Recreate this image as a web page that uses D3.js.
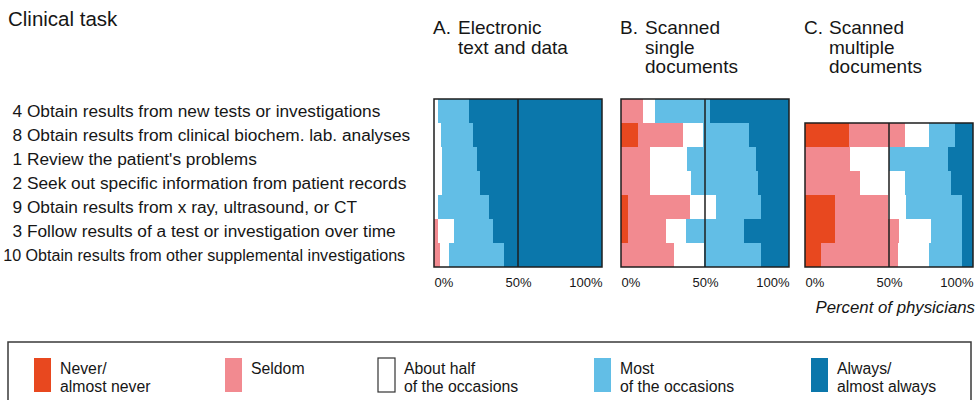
<!DOCTYPE html>
<html>
<head>
<meta charset="utf-8">
<script src="https://cdn.jsdelivr.net/npm/d3@7"></script>
<style>
  body { margin: 0; background: #fff; }
  svg { display: block; font-family: "Liberation Sans", Arial, sans-serif; }
  text { fill: #161616; }
</style>
</head>
<body>
<svg id="chart" width="976" height="400"></svg>
<script>
// tasks, top to bottom
const taskIds = ["4", "8", "1", "2", "9", "3", "10"];
const taskNames = [
    "Obtain results from new tests or investigations",
    "Obtain results from clinical biochem. lab. analyses",
    "Review the patient's problems",
    "Seek out specific information from patient records",
    "Obtain results from x ray, ultrasound, or CT",
    "Follow results of a test or investigation over time",
    "Obtain results from other supplemental investigations"
];

const categories = ["never", "seldom", "half", "most", "always"];
const categoryLabels = [
    ["Never/", "almost never"],
    ["Seldom"],
    ["About half", "of the occasions"],
    ["Most", "of the occasions"],
    ["Always/", "almost always"]
];

// percent of physicians per task (same order as taskIds); null = not asked
const aNever  = [0, 0, 0, 0, 0, 0, 0];
const aSeldom = [0, 0, 0, 0, 0, 2.4, 3.4];
const aHalf   = [2.4, 4.4, 4.8, 4.8, 2.4, 9.6, 5.4];
const aMost   = [18.3, 18.9, 20.5, 22.5, 30.3, 23.3, 33.0];
const aAlways = [79.3, 76.7, 74.7, 72.7, 67.3, 64.7, 58.2];

const bNever  = [0, 9.9, 0, 0, 3.9, 3.9, 0];
const bSeldom = [13.2, 27.0, 17.2, 17.2, 36.9, 23.1, 31.6];
const bHalf   = [6.9, 11.8, 22.2, 24.6, 15.8, 11.9, 18.1];
const bMost   = [32.6, 27.6, 40.9, 39.5, 26.6, 34.5, 33.5];
const bAlways = [47.3, 23.7, 19.7, 18.7, 16.8, 26.6, 16.8];

const cNever  = [null, 26.4, 0, 0, 17.7, 17.7, 9.3];
const cSeldom = [null, 33.1, 27.0, 32.5, 31.6, 38.5, 45.9];
const cHalf   = [null, 14.5, 22.9, 27.3, 10.9, 18.8, 18.4];
const cMost   = [null, 15.0, 35.5, 27.0, 33.5, 18.7, 20.1];
const cAlways = [null, 11.0, 14.6, 13.2, 6.3, 6.3, 6.3];

const panelTitles = [
    ["A.", "Electronic", "text and data"],
    ["B.", "Scanned", "single", "documents"],
    ["C.", "Scanned", "multiple", "documents"]
];
const tickValues = [0, 50, 100];

const colors = {
    never: "#e8481f",
    seldom: "#f28a90",
    half: "#ffffff",
    most: "#62bee6",
    always: "#0b77ab"
};

const svg = d3.select("#chart");

const y = d3.scaleBand().domain(taskIds).range([99, 267]).padding(0);

// title
svg.append("text")
    .attr("x", 8).attr("y", 26)
    .style("font-size", "20.5px")
    .text("Clinical task");

// row labels
svg.append("g").selectAll("text")
    .data(taskIds)
    .join("text")
    .attr("x", d => 12.5 - (d.length - 1) * 9.3)
    .attr("y", d => y(d) + y.bandwidth() / 2 + 6)
    .style("font-size", "17.3px")
    .text((d, i) => d + " " + taskNames[i])
    .each(function () {
        // keep the longest label clear of the first panel
        if (this.getComputedTextLength() > 402) {
            d3.select(this).attr("textLength", 402).attr("lengthAdjust", "spacingAndGlyphs");
        }
    });

const panels = [
    { x0: 434, series: [aNever, aSeldom, aHalf, aMost, aAlways] },
    { x0: 621, series: [bNever, bSeldom, bHalf, bMost, bAlways] },
    { x0: 805, series: [cNever, cSeldom, cHalf, cMost, cAlways] }
];
const panelWidth = 168;

panels.forEach((p, pi) => {
    const x = d3.scaleLinear().domain([0, 100]).range([p.x0, p.x0 + panelWidth]);

    const rows = taskIds.map((id, i) => {
        const r = { id: id };
        categories.forEach((c, ci) => { r[c] = p.series[ci][i]; });
        return r;
    }).filter(r => r.never !== null);

    const stacked = d3.stack().keys(categories)(rows);
    const g = svg.append("g");

    g.selectAll("g")
        .data(stacked)
        .join("g")
        .attr("fill", d => colors[d.key])
        .selectAll("rect")
        .data(d => d)
        .join("rect")
        .attr("x", d => x(d[0]))
        .attr("y", d => y(d.data.id))
        .attr("width", d => Math.max(0, x(d[1]) - x(d[0])))
        .attr("height", y.bandwidth())
        .attr("shape-rendering", "crispEdges");

    const top = y(rows[0].id);
    const bottom = y(rows[rows.length - 1].id) + y.bandwidth();

    g.append("line")
        .attr("x1", x(50)).attr("x2", x(50))
        .attr("y1", top).attr("y2", bottom)
        .attr("stroke", "#1e1e1e").attr("stroke-width", 1.5);

    g.append("rect")
        .attr("x", x(0)).attr("y", top)
        .attr("width", panelWidth).attr("height", bottom - top)
        .attr("fill", "none")
        .attr("stroke", "#1e1e1e").attr("stroke-width", 1.5);

    // axis
    const axis = svg.append("g")
        .attr("transform", `translate(0,${bottom + 8})`)
        .call(d3.axisBottom(x).tickValues(tickValues).tickFormat(d => d + "%").tickSize(0));
    axis.select(".domain").remove();
    axis.selectAll("text")
        .style("font-size", "13px")
        .style("font-family", "Liberation Sans, Arial, sans-serif")
        .attr("fill", "#161616")
        .attr("text-anchor", d => d === 0 ? "start" : d === 100 ? "end" : "middle");

    // panel title
    const t = panelTitles[pi];
    const tg = svg.append("g").style("font-size", "19px");
    tg.append("text").attr("x", p.x0 - 1).attr("y", 34).text(t[0]);
    t.slice(1).forEach((line, li) => {
        tg.append("text")
            .attr("x", p.x0 + 24)
            .attr("y", 34 + li * 19.5)
            .text(line);
    });
});

svg.append("text")
    .attr("x", 975).attr("y", 313)
    .attr("text-anchor", "end")
    .style("font-size", "16.8px")
    .style("font-style", "italic")
    .text("Percent of physicians");

// legend
svg.append("rect")
    .attr("x", 8).attr("y", 342)
    .attr("width", 963).attr("height", 80)
    .attr("fill", "none")
    .attr("stroke", "#3a3a3a").attr("stroke-width", 1.5);

const legendX = [34, 225, 378, 594, 811];
const legend = svg.append("g").selectAll("g")
    .data(categories)
    .join("g")
    .attr("transform", (d, i) => `translate(${legendX[i]},358)`);

legend.append("rect")
    .attr("width", 17).attr("height", 34)
    .attr("fill", d => colors[d])
    .attr("stroke", d => d === "half" ? "#333" : "none")
    .attr("stroke-width", 1.2);

legend.each(function (d, i) {
    const sel = d3.select(this);
    categoryLabels[i].forEach((line, li) => {
        sel.append("text")
            .attr("x", 26)
            .attr("y", 16 + li * 17.5)
            .style("font-size", "15.8px")
            .text(line);
    });
});
</script>
</body>
</html>
